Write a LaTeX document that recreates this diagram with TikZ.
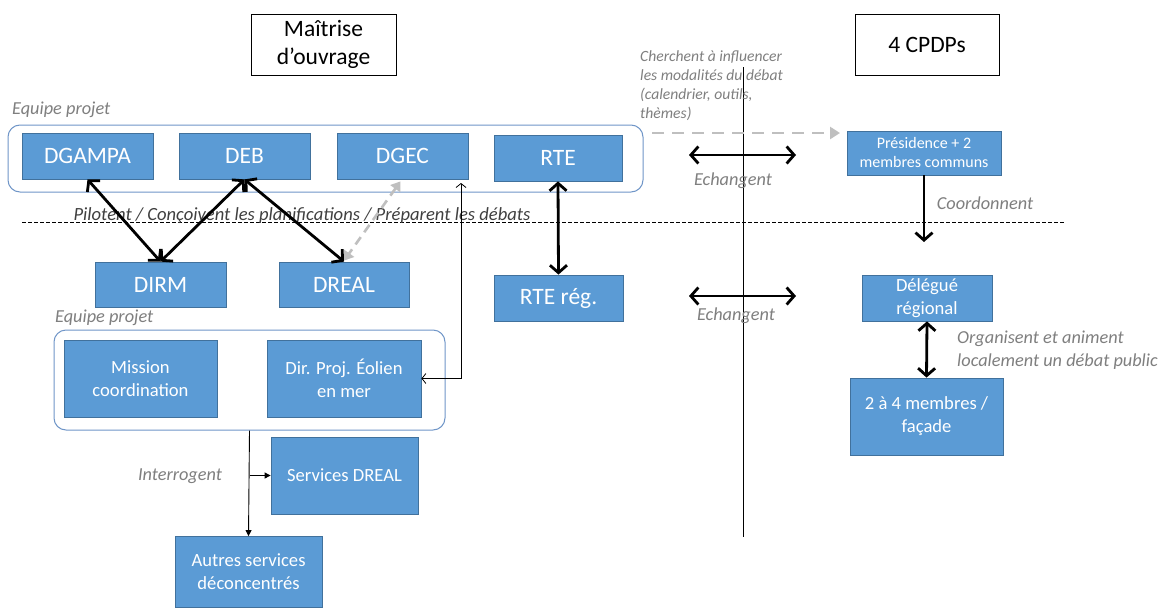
\documentclass[tikz,border=0pt]{standalone}
\usepackage{fontspec}
\setmainfont{Carlito}
\usetikzlibrary{arrows.meta,calc}
\definecolor{boxblue}{HTML}{5B9BD5}
\definecolor{boxedge}{HTML}{41719C}
\definecolor{teamedge}{HTML}{7096C8}
\definecolor{lblgrey}{HTML}{7F7F7F}
\definecolor{dashgrey}{HTML}{BFBFBF}
\definecolor{darklbl}{HTML}{404040}
\newcommand\fsz[2]{\fontsize{#1}{#2}\selectfont}
\tikzset{
  bluebox/.style={draw=boxedge, line width=0.8pt, fill=boxblue, text=white, align=center, inner sep=0pt},
  bigtxt/.style={font=\fsz{23.5}{28}},
  midtxt/.style={font=\fsz{18.6}{23}},
  smalltxt/.style={font=\fsz{16}{19}},
  titlebox/.style={draw=black, line width=0.8pt, fill=white, align=center, inner sep=0pt, font=\fsz{23.5}{28}},
  team/.style={draw=teamedge, line width=1pt, rounded corners=12pt, inner sep=0pt},
  lbl/.style={text=lblgrey, font=\fsz{18.3}{23}\itshape, inner sep=0pt},
  smalllbl/.style={text=lblgrey, font=\fsz{15.6}{19}\itshape, inner sep=0pt, align=left},
  thickarr/.style={line width=2.8pt, {Straight Barb[length=7.5pt,width=17pt]}-{Straight Barb[length=7.5pt,width=17pt]}},
  thickone/.style={line width=2.8pt, -{Straight Barb[length=7.5pt,width=17pt]}},
  greyarr/.style={dashgrey, line width=2.6pt, dash pattern=on 9pt off 6pt, {Triangle[length=9pt,width=12pt]}-{Triangle[length=9pt,width=12pt]}},
  greyone/.style={dashgrey, line width=2.6pt, dash pattern=on 12pt off 8pt, -{Triangle[length=10pt,width=12pt]}},
  thinbarb/.style={line width=0.8pt, {Straight Barb[length=4pt,width=10pt]}-{Straight Barb[length=4pt,width=10pt]}},
  thintri/.style={line width=0.9pt, -{Triangle[length=6pt,width=6pt]}},
}
\begin{document}
\begin{tikzpicture}[x=1pt,y=-1pt]
\fill[white] (0,0) rectangle (1162,608);
\useasboundingbox (0,0) rectangle (1162,608);

% title boxes
\node[titlebox, minimum width=145, minimum height=61] (mo) at (323.5,44.5) {Maîtrise\\d’ouvrage};
\node[titlebox, minimum width=144, minimum height=61] (cpdp) at (927,44.5) {4 CPDPs};

% separators
\coordinate (hA) at (22,222);
\coordinate (hB) at (1065,222);
\draw[line width=0.7pt, dash pattern=on 3.5pt off 2.5pt] (hA) -- (hB);
\coordinate (vA) at (743,67);
\coordinate (vB) at (743,537);
\draw[line width=0.9pt] (vA) -- (vB);

% team 1
\node[lbl, anchor=west] (eq1) at (12,110) {Equipe projet};
\node[team, minimum width=635, minimum height=67] (team1) at (325.5,158.5) {};
\node[bluebox, bigtxt, minimum width=131, minimum height=46] (dgampa) at (87.5,156) {DGAMPA};
\node[bluebox, bigtxt, minimum width=131, minimum height=46] (deb) at (244.5,156) {DEB};
\node[bluebox, bigtxt, minimum width=131, minimum height=46] (dgec) at (402.5,156) {DGEC};
\node[bluebox, bigtxt, minimum width=128, minimum height=46] (rte) at (558,158) {RTE};

% regional level
\node[bluebox, bigtxt, minimum width=131, minimum height=45] (dirm) at (160.5,284.5) {DIRM};
\node[bluebox, bigtxt, minimum width=130, minimum height=45] (dreal) at (344,284.5) {DREAL};
\node[bluebox, bigtxt, minimum width=129, minimum height=46] (rtereg) at (558.5,298) {RTE rég.};

\node[text=darklbl, font=\fsz{18.6}{21}\itshape, inner sep=0pt] (pilot) at (302,216) {Pilotent / Conçoivent les planifications / Préparent les débats};

% team 2
\node[lbl, anchor=west] (eq2) at (55,318) {Equipe projet};
\node[team, minimum width=391, minimum height=100] (team2) at (249.5,380) {};
\node[bluebox, midtxt, minimum width=153, minimum height=77] (mission) at (140.5,378.5) {Mission\\coordination};
\node[bluebox, midtxt, minimum width=154, minimum height=77] (dirproj) at (344,378.5) {Dir. Proj. Éolien\\en mer};
\node[bluebox, midtxt, minimum width=147, minimum height=77] (servdreal) at (344.5,475.5) {Services DREAL};
\node[bluebox, midtxt, minimum width=147, minimum height=71] (autres) at (248.5,572) {Autres services\\déconcentrés};
\node[lbl] (interro) at (180,476) {Interrogent};

% CPDP side
\node[bluebox, smalltxt, minimum width=154, minimum height=44] (pres) at (924,153) {Présidence + 2\\membres communs};
\node[bluebox, midtxt, minimum width=130, minimum height=46] (deleg) at (927,298) {Délégué\\régional};
\node[bluebox, midtxt, minimum width=153, minimum height=77] (membres) at (926.5,416.5) {2 à 4 membres /\\façade};

\node[smalllbl, anchor=west] (cherch) at (640,85.5) {Cherchent à influencer\\les modalités du débat\\(calendrier, outils,\\thèmes)};
\node[lbl] (ech1) at (733,181) {Echangent};
\node[lbl] (ech2) at (736,316) {Echangent};
\node[lbl] (coord) at (985,203) {Coordonnent};
\node[lbl, anchor=west, align=left] (organ) at (957,350.5) {Organisent et animent\\localement un débat public};

% connectors
\draw[thickarr] (dgampa.south) -- (dirm.north);
\draw[thickarr] (deb.south) -- (dirm.north);
\draw[thickarr] (deb.south) -- (dreal.north);
\draw[greyarr] ($(dgec.south)+(-2,2)$) -- ($(dreal.north)+(0,-1)$);
\draw[thickarr] (rte.south) -- (rtereg.north);

\coordinate (dgin) at (461,183);
\draw[thinbarb] (dirproj.east) -| (dgin);

\draw[thintri] (team2.south) -- (autres.north);
\draw[thintri] (team2.south |- servdreal.west) -- (servdreal.west);

\coordinate (gA) at (652,133);
\coordinate (gB) at (840,133);
\draw[greyone] (gA) -- (gB);

\coordinate (e1a) at (689,155);
\coordinate (e1b) at (796,155);
\draw[thickarr] (e1a) -- (e1b);
\coordinate (e2a) at (689,296);
\coordinate (e2b) at (796,296);
\draw[thickarr] (e2a) -- (e2b);

\coordinate (coordEnd) at (924,242);
\draw[thickone] (pres.south) -- (coordEnd);
\draw[thickarr] (deleg.south) -- (membres.north);
\end{tikzpicture}
\end{document}
